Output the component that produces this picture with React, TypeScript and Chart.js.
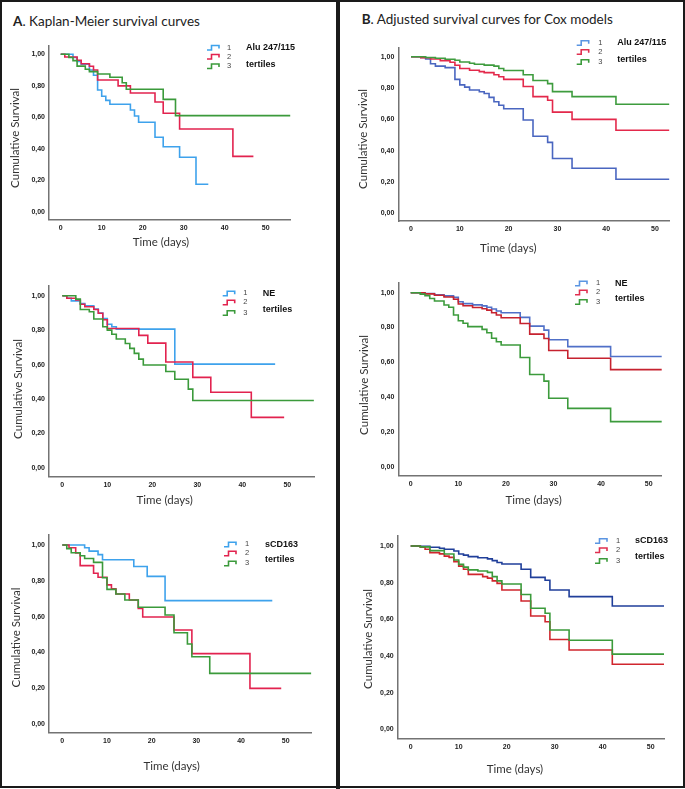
import React, { useEffect, useRef } from 'react';
import { Chart, registerables } from 'chart.js';

Chart.register(...registerables);

// ---------- text & ticks ----------
const xTickValues = [0, 10, 20, 30, 40, 50];
const yTickValues = [0, 0.2, 0.4, 0.6, 0.8, 1.0];
const groupLabels = ['1', '2', '3'];
const tertilesLabel = 'tertiles';
const yAxisTitle = 'Cumulative Survival';
const xAxisTitle = 'Time (days)';
const titleA = ['A', '. Kaplan-Meier survival curves'];
const titleB = ['B', '. Adjusted survival curves for Cox models'];

// ---------- A. Kaplan-Meier: Alu 247/115 ----------
const kmAlu1T = [0, 3, 4, 5, 7, 8, 9, 10, 11, 12, 17, 18, 19, 23, 25, 29, 33, 36];
const kmAlu1S = [1, 0.98, 0.955, 0.937, 0.9, 0.867, 0.774, 0.734, 0.708, 0.683, 0.647, 0.609, 0.569, 0.474, 0.414, 0.347, 0.176, 0.176];
const kmAlu2T = [0, 1, 4, 5, 7, 8, 9, 14, 17, 23, 25, 29, 42, 47];
const kmAlu2S = [1, 0.983, 0.962, 0.94, 0.924, 0.9, 0.837, 0.8, 0.755, 0.698, 0.626, 0.526, 0.353, 0.353];
const kmAlu3T = [0, 2, 3, 4, 6, 7, 9, 12, 15, 16, 25, 28, 56];
const kmAlu3S = [1, 0.98, 0.96, 0.925, 0.905, 0.89, 0.875, 0.854, 0.82, 0.778, 0.714, 0.611, 0.611];

// ---------- A. Kaplan-Meier: NE ----------
const kmNe1T = [0, 1, 2, 4, 5, 7, 8, 9, 10, 11, 12, 25, 47.3];
const kmNe1S = [1, 0.985, 0.97, 0.955, 0.942, 0.923, 0.9, 0.868, 0.834, 0.82, 0.806, 0.603, 0.603];
const kmNe2T = [0, 1, 3, 4, 5, 7, 8, 9, 10, 17, 19, 23, 29, 33, 42, 49.3];
const kmNe2S = [1, 0.985, 0.975, 0.95, 0.936, 0.92, 0.898, 0.86, 0.81, 0.77, 0.725, 0.615, 0.526, 0.44, 0.294, 0.294];
const kmNe3T = [0, 3, 4, 6, 7, 9, 10, 11, 12, 14, 15, 16, 17, 18, 23, 25, 28, 29, 55.9];
const kmNe3S = [1, 0.98, 0.92, 0.907, 0.865, 0.82, 0.8, 0.776, 0.749, 0.723, 0.694, 0.665, 0.632, 0.598, 0.56, 0.515, 0.458, 0.392, 0.392];

// ---------- A. Kaplan-Meier: sCD163 ----------
const kmCd1T = [0, 5, 6, 8, 9, 16, 19, 23, 47];
const kmCd1S = [1, 0.985, 0.966, 0.946, 0.918, 0.88, 0.825, 0.689, 0.689];
const kmCd2T = [0, 1.5, 3, 4, 7, 8, 10, 11, 12, 15, 17, 18, 25, 29, 42, 49];
const kmCd2S = [1, 0.985, 0.955, 0.885, 0.842, 0.82, 0.777, 0.755, 0.726, 0.693, 0.646, 0.598, 0.525, 0.393, 0.199, 0.199];
const kmCd3T = [0, 1, 2, 4, 5, 7, 9, 10, 12, 14, 17, 23, 25, 28, 29, 33, 55.7];
const kmCd3S = [1, 0.98, 0.957, 0.94, 0.925, 0.903, 0.817, 0.752, 0.726, 0.693, 0.652, 0.609, 0.51, 0.447, 0.376, 0.283, 0.283];

// ---------- B. Cox: Alu 247/115 ----------
const coxAlu1T = [0, 2, 3, 4, 5, 7, 9, 10, 11, 12, 14, 15, 16, 17, 18, 19, 23, 25, 28, 29, 33, 42, 53];
const coxAlu1S = [1, 0.995, 0.985, 0.955, 0.94, 0.93, 0.855, 0.82, 0.806, 0.787, 0.776, 0.765, 0.74, 0.712, 0.69, 0.668, 0.596, 0.492, 0.453, 0.35, 0.288, 0.217, 0.217];
const coxAlu2T = [0, 2, 4, 6, 8, 9, 10, 12, 14, 15, 17, 18, 19, 23, 25, 28, 29, 33, 42, 53];
const coxAlu2S = [1, 0.993, 0.985, 0.975, 0.965, 0.945, 0.925, 0.913, 0.905, 0.898, 0.885, 0.872, 0.855, 0.81, 0.745, 0.722, 0.646, 0.6, 0.53, 0.53];
const coxAlu3T = [0, 3, 5, 7, 9, 10, 12, 13, 15, 17, 18, 19, 23, 25, 28, 29, 33, 42, 53];
const coxAlu3S = [1, 0.995, 0.99, 0.984, 0.977, 0.966, 0.958, 0.952, 0.946, 0.94, 0.925, 0.912, 0.885, 0.848, 0.828, 0.777, 0.745, 0.696, 0.696];

// ---------- B. Cox: NE ----------
const coxNe1T = [0, 3, 5, 7, 9, 10, 11, 13, 15, 16, 17, 18, 19, 23, 25, 28, 29, 33, 42, 53];
const coxNe1S = [1, 0.995, 0.988, 0.982, 0.973, 0.948, 0.937, 0.93, 0.924, 0.916, 0.906, 0.895, 0.885, 0.858, 0.808, 0.785, 0.73, 0.69, 0.633, 0.633];
const coxNe2T = [0, 3, 5, 7, 9, 10, 11, 13, 15, 16, 17, 18, 19, 23, 25, 28, 29, 33, 42, 53];
const coxNe2S = [1, 0.993, 0.985, 0.975, 0.962, 0.935, 0.925, 0.915, 0.908, 0.9, 0.885, 0.872, 0.856, 0.823, 0.762, 0.737, 0.668, 0.623, 0.558, 0.558];
const coxNe3T = [0, 2, 3, 4, 5, 7, 8, 9, 10, 11, 12, 15, 16, 17, 18, 19, 23, 25, 28, 29, 33, 42, 53];
const coxNe3S = [1, 0.992, 0.983, 0.967, 0.952, 0.929, 0.916, 0.872, 0.839, 0.824, 0.805, 0.789, 0.77, 0.738, 0.718, 0.699, 0.628, 0.53, 0.492, 0.393, 0.335, 0.259, 0.259];

// ---------- B. Cox: sCD163 ----------
const coxCd1T = [0, 2, 4, 6, 7, 9, 10, 11, 12, 14, 16, 17, 18, 19, 23, 25, 28, 29, 33, 42, 53];
const coxCd1S = [1, 0.998, 0.993, 0.988, 0.982, 0.973, 0.956, 0.95, 0.942, 0.936, 0.93, 0.92, 0.91, 0.902, 0.873, 0.829, 0.813, 0.76, 0.724, 0.673, 0.673];
const coxCd2T = [0, 2, 3, 4, 6, 7, 8, 9, 10, 11, 12, 15, 16, 17, 18, 19, 23, 25, 28, 29, 33, 42, 53];
const coxCd2S = [1, 0.993, 0.982, 0.964, 0.957, 0.945, 0.938, 0.915, 0.89, 0.873, 0.845, 0.833, 0.825, 0.81, 0.796, 0.76, 0.7, 0.618, 0.587, 0.49, 0.433, 0.355, 0.355];
const coxCd3T = [0, 2, 4, 7, 9, 10, 11, 12, 14, 16, 17, 18, 19, 23, 25, 28, 29, 33, 42, 53];
const coxCd3S = [1, 0.995, 0.975, 0.956, 0.924, 0.9, 0.885, 0.87, 0.864, 0.856, 0.833, 0.81, 0.793, 0.735, 0.66, 0.633, 0.542, 0.486, 0.41, 0.41];

// ---------- styling ----------
const KM_COLORS = ['#3ea2ec', '#e2234f', '#3b9a3b'];
const COX_ALU_COLORS = ['#4a66c0', '#e3294b', '#3e9c3e'];
const COX_NE_COLORS = ['#5070c8', '#c6222f', '#3c9b3c'];
const COX_CD_COLORS = ['#203f9a', '#d0262e', '#3b9b3b'];
const COX_ICON_COLORS = ['#5b95e2', '#e03050', '#3b9b3b'];
const AXIS_COLOR = '#737373';
const TITLE_FONT = 'Lato, "Open Sans", sans-serif';
const TICK_FONT = '"Liberation Sans", Arial, sans-serif';

type Series = { t: number[]; s: number[]; color: string; icon: string };
type Panel = {
  key: string;
  canvas: { x: number; y: number; w: number; h: number };
  x0px: number; x50px: number; left: number; right: number;
  y1px: number; y0px: number;
  xTitle: [number, number]; yTitle: [number, number];
  legend: { iconX: number; numX: number; rows: number[]; name: string; nameX: number; nameY: number; tertY: number };
  series: Series[];
};

const mk = (t: number[], s: number[], color: string, icon: string): Series => ({ t, s, color, icon });

const panels: Panel[] = [
  {
    key: 'A1', canvas: { x: 2, y: 30, w: 333, h: 228 },
    x0px: 60.7, x50px: 265.7, left: 49, right: 290.7, y1px: 54.3, y0px: 212,
    xTitle: [161, 242.7], yTitle: [15.5, 138],
    legend: { iconX: 207, numX: 227, rows: [47.5, 56.5, 66], name: 'Alu 247/115', nameX: 246, nameY: 47.5, tertY: 64.5 },
    series: [mk(kmAlu1T, kmAlu1S, KM_COLORS[0], KM_COLORS[0]), mk(kmAlu2T, kmAlu2S, KM_COLORS[1], KM_COLORS[1]), mk(kmAlu3T, kmAlu3S, KM_COLORS[2], KM_COLORS[2])],
  },
  {
    key: 'B1', canvas: { x: 341, y: 30, w: 341, h: 228 },
    x0px: 411, x50px: 655, left: 398.3, right: 669.3, y1px: 56.7, y0px: 213.3,
    xTitle: [508.3, 248.3], yTitle: [363.3, 139],
    legend: { iconX: 576.7, numX: 598.3, rows: [42.7, 51.7, 61.7], name: 'Alu 247/115', nameX: 617.3, nameY: 42.7, tertY: 60 },
    series: [mk(coxAlu1T, coxAlu1S, COX_ALU_COLORS[0], COX_ICON_COLORS[0]), mk(coxAlu2T, coxAlu2S, COX_ALU_COLORS[1], COX_ICON_COLORS[1]), mk(coxAlu3T, coxAlu3S, COX_ALU_COLORS[2], COX_ICON_COLORS[2])],
  },
  {
    key: 'A2', canvas: { x: 2, y: 262, w: 333, h: 254 },
    x0px: 62.3, x50px: 287.3, left: 49, right: 314, y1px: 295.7, y0px: 468,
    xTitle: [164.7, 500.7], yTitle: [18, 389],
    legend: { iconX: 222.7, numX: 243.3, rows: [293.3, 302.3, 312.7], name: 'NE', nameX: 262.7, nameY: 293.3, tertY: 310 },
    series: [mk(kmNe1T, kmNe1S, KM_COLORS[0], KM_COLORS[0]), mk(kmNe2T, kmNe2S, KM_COLORS[1], KM_COLORS[1]), mk(kmNe3T, kmNe3S, KM_COLORS[2], KM_COLORS[2])],
  },
  {
    key: 'B2', canvas: { x: 341, y: 262, w: 341, h: 254 },
    x0px: 410.7, x50px: 648.7, left: 398.3, right: 661.7, y1px: 292.7, y0px: 466.7,
    xTitle: [533.7, 500], yTitle: [364, 385],
    legend: { iconX: 575, numX: 596, rows: [283.3, 292.3, 301.7], name: 'NE', nameX: 615, nameY: 283.3, tertY: 299 },
    series: [mk(coxNe1T, coxNe1S, COX_NE_COLORS[0], COX_ICON_COLORS[0]), mk(coxNe2T, coxNe2S, COX_NE_COLORS[1], COX_ICON_COLORS[1]), mk(coxNe3T, coxNe3S, COX_NE_COLORS[2], COX_ICON_COLORS[2])],
  },
  {
    key: 'A3', canvas: { x: 2, y: 520, w: 333, h: 264 },
    x0px: 62.3, x50px: 285.7, left: 49, right: 311.7, y1px: 545, y0px: 724,
    xTitle: [171.7, 766.7], yTitle: [16.7, 637.5],
    legend: { iconX: 224, numX: 245, rows: [544.3, 553.3, 563.3], name: 'sCD163', nameX: 265, nameY: 544.3, tertY: 560 },
    series: [mk(kmCd1T, kmCd1S, KM_COLORS[0], KM_COLORS[0]), mk(kmCd2T, kmCd2S, KM_COLORS[1], KM_COLORS[1]), mk(kmCd3T, kmCd3S, KM_COLORS[2], KM_COLORS[2])],
  },
  {
    key: 'B3', canvas: { x: 341, y: 520, w: 341, h: 264 },
    x0px: 410.7, x50px: 650.7, left: 397.7, right: 664, y1px: 546, y0px: 729.3,
    xTitle: [515, 769.3], yTitle: [368.3, 639],
    legend: { iconX: 595, numX: 616, rows: [540.7, 550, 560.7], name: 'sCD163', nameX: 635, nameY: 540.7, tertY: 556.7 },
    series: [mk(coxCd1T, coxCd1S, COX_CD_COLORS[0], COX_ICON_COLORS[0]), mk(coxCd2T, coxCd2S, COX_CD_COLORS[1], COX_ICON_COLORS[1]), mk(coxCd3T, coxCd3S, COX_CD_COLORS[2], COX_ICON_COLORS[2])],
  },
];

const Y_MAX = 1.055;
const Y_MIN = -0.05;

function SurvivalChart({ p }: { p: Panel }) {
  const ref = useRef<HTMLCanvasElement | null>(null);
  useEffect(() => {
    if (!ref.current) return;
    const cv = p.canvas;
    const pxPerDay = (p.x50px - p.x0px) / 50;
    const xMin = (p.left - p.x0px) / pxPerDay;
    const xMax = (p.right - p.x0px) / pxPerDay;
    const pxPerUnit = p.y0px - p.y1px;
    const plotTop = p.y1px - (Y_MAX - 1) * pxPerUnit;
    const plotBottom = p.y0px - Y_MIN * pxPerUnit;

    const decor = {
      id: 'decor' + p.key,
      afterDraw(chart: any) {
        const ctx = chart.ctx as CanvasRenderingContext2D;
        const ox = cv.x, oy = cv.y;
        ctx.save();
        // axis titles
        ctx.fillStyle = '#333';
        ctx.font = `11.5px ${TITLE_FONT}`;
        ctx.textAlign = 'center';
        ctx.textBaseline = 'middle';
        ctx.fillText(xAxisTitle, p.xTitle[0] - ox, p.xTitle[1] - oy);
        ctx.save();
        ctx.translate(p.yTitle[0] - ox, p.yTitle[1] - oy);
        ctx.rotate(-Math.PI / 2);
        ctx.fillText(yAxisTitle, 0, 0);
        ctx.restore();
        // legend
        const L = p.legend;
        p.series.forEach((s, i) => {
          const y = L.rows[i] - oy;
          const x = L.iconX - ox;
          ctx.strokeStyle = s.icon;
          ctx.lineWidth = 1.6;
          ctx.beginPath();
          ctx.moveTo(x, y + 2.5);
          ctx.lineTo(x + 4.5, y + 2.5);
          ctx.lineTo(x + 4.5, y - 2);
          ctx.lineTo(x + 12, y - 2);
          ctx.lineTo(x + 12, y + 1);
          ctx.stroke();
          ctx.fillStyle = '#444';
          ctx.font = `7.5px ${TICK_FONT}`;
          ctx.textAlign = 'left';
          ctx.textBaseline = 'middle';
          ctx.fillText(groupLabels[i], L.numX - ox, y);
        });
        ctx.fillStyle = '#111';
        ctx.font = `bold 9px ${TICK_FONT}`;
        ctx.textAlign = 'left';
        ctx.textBaseline = 'middle';
        ctx.fillText(L.name, L.nameX - ox, L.nameY - oy);
        ctx.fillText(tertilesLabel, L.nameX - ox, L.tertY - oy);
        ctx.restore();
      },
    };

    const tickFont = { family: TICK_FONT, size: 7, weight: 'bold' as const };
    const chart = new Chart(ref.current, {
      type: 'line',
      data: {
        datasets: p.series.map((s, i) => ({
          data: s.t.map((t, k) => ({ x: t, y: s.s[k] })),
          borderColor: s.color,
          backgroundColor: s.color,
          borderWidth: 1.6,
          pointRadius: 0,
          stepped: 'before' as const,
          fill: false,
          order: 2 - i,
        })),
      },
      options: {
        responsive: false,
        maintainAspectRatio: false,
        animation: false,
        events: [],
        layout: { padding: { left: 0, top: plotTop - cv.y, right: cv.x + cv.w - p.right, bottom: 0 } },
        plugins: { legend: { display: false }, tooltip: { enabled: false }, title: { display: false } },
        scales: {
          x: {
            type: 'linear',
            min: xMin,
            max: xMax,
            afterFit: (s: any) => { s.height = cv.y + cv.h - plotBottom; },
            afterBuildTicks: (s: any) => { s.ticks = xTickValues.map((v) => ({ value: v })); },
            grid: { display: false, drawTicks: false },
            border: { display: true, color: AXIS_COLOR, width: 1.5 },
            ticks: { font: tickFont, color: '#222', padding: 4, maxRotation: 0, autoSkip: false, callback: (v: any) => String(v) },
          },
          y: {
            type: 'linear',
            min: Y_MIN,
            max: Y_MAX,
            afterFit: (s: any) => { s.width = p.left - cv.x; },
            afterBuildTicks: (s: any) => { s.ticks = yTickValues.map((v) => ({ value: v })); },
            grid: { display: false, drawTicks: false },
            border: { display: true, color: AXIS_COLOR, width: 1.5 },
            ticks: { font: tickFont, color: '#222', padding: 4, autoSkip: false, callback: (v: any) => Number(v).toFixed(2).replace('.', ',') },
          },
        },
      },
      plugins: [decor],
    } as any);
    return () => chart.destroy();
  }, [p]);
  return (
    <canvas
      ref={ref}
      width={p.canvas.w}
      height={p.canvas.h}
      style={{ position: 'absolute', left: p.canvas.x, top: p.canvas.y, width: p.canvas.w, height: p.canvas.h, display: 'block' }}
    />
  );
}

export default function App() {
  const titleStyle: React.CSSProperties = {
    position: 'absolute', fontFamily: TITLE_FONT, fontSize: 13.5, lineHeight: '16px', color: '#222', whiteSpace: 'nowrap',
  };
  return (
    <div style={{ position: 'absolute', left: 0, top: 0, width: 685, height: 789, background: '#fff', overflow: 'hidden' }}>
      <div style={{ position: 'absolute', left: 0, top: 0, width: 685, height: 788, border: '2px solid #1a1a1a', boxSizing: 'border-box' }} />
      <div style={{ position: 'absolute', left: 336, top: 0, width: 4, height: 789, background: '#1a1a1a' }} />
      <div style={{ ...titleStyle, left: 13, top: 13 }}><b>{titleA[0]}</b>{titleA[1]}</div>
      <div style={{ ...titleStyle, left: 361.7, top: 11.3 }}><b>{titleB[0]}</b>{titleB[1]}</div>
      {panels.map((p) => <SurvivalChart key={p.key} p={p} />)}
    </div>
  );
}
